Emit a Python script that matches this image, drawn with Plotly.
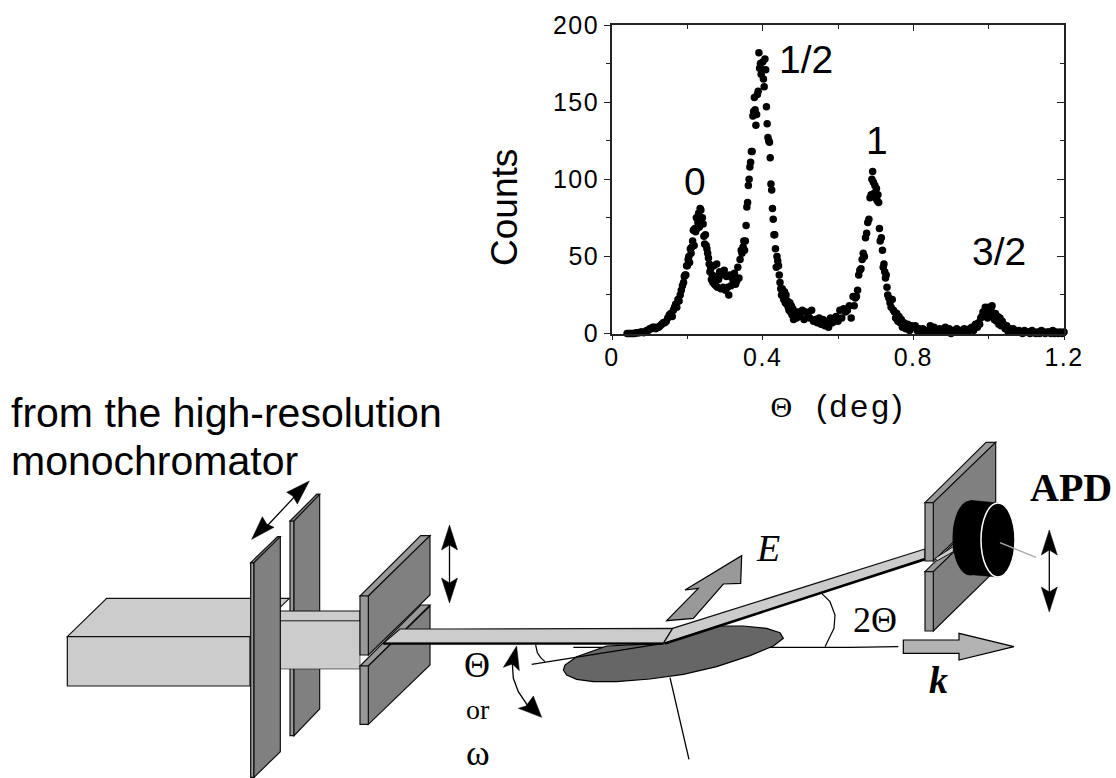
import plotly.graph_objects as go

W, H = 1116, 778

theta = [
 .04,.044,.048,.052,.056,.06,.064,.068,.072,.076,
 .08,.084,.088,.092,.096,.1,.104,.108,.112,.116,
 .12,.124,.128,.132,.136,.14,.144,.148,.152,.156,
 .16,.163,.166,.169,.172,.175,.178,.181,.184,.187,
 .19,.192,.194,.196,.198,.2,.202,.204,.206,.208,
 .21,.212,.214,.216,.218,.22,.222,.224,.226,.228,
 .23,.232,.234,.236,.238,.24,.242,.244,.246,.248,
 .25,.252,.254,.256,.258,.26,.262,.264,.266,.268,
 .27,.272,.274,.276,.278,.28,.283,.286,.289,.292,
 .295,.298,.301,.304,.307,.31,.313,.316,.319,.322,
 .325,.328,.331,.334,.337,.34,.343,.345,.348,.35,
 .352,.354,.356,.358,.36,.362,.364,.366,.368,.37,
 .372,.374,.376,.378,.38,.382,.384,.386,.388,.39,
 .392,.394,.396,.398,.4,.402,.404,.406,.408,.41,
 .412,.414,.416,.418,.42,.422,.424,.426,.428,.43,
 .432,.434,.436,.438,.44,.442,.444,.446,.448,.45,
 .452,.454,.456,.458,.46,.462,.464,.466,.468,.47,
 .472,.474,.476,.478,.48,.482,.484,.486,.488,.49,
 .495,.5,.505,.51,.515,.52,.525,.53,.535,.54,
 .545,.55,.555,.56,.565,.57,.575,.58,.585,.59,
 .595,.6,.605,.61,.615,.62,.625,.63,.635,.64,
 .643,.646,.649,.652,.655,.658,.661,.664,.667,.67,
 .673,.676,.679,.682,.685,.688,.69,.692,.694,.696,
 .698,.7,.702,.704,.706,.708,.71,.712,.715,.718,
 .72,.722,.724,.726,.728,.73,.732,.735,.738,.741,
 .744,.747,.75,.753,.756,.759,.762,.765,.768,.771,
 .775,.78,.785,.79,.795,.8,.805,.81,.815,.82,
 .825,.83,.835,.84,.845,.85,.855,.86,.865,.87,
 .875,.88,.885,.89,.895,.9,.905,.91,.915,.92,
 .925,.93,.935,.94,.945,.95,.955,.96,.965,.97,
 .973,.976,.979,.982,.985,.988,.991,.994,.997,1.0,
 1.003,1.006,1.009,1.012,1.015,1.018,1.021,1.024,1.027,1.03,
 1.033,1.036,1.04,1.044,1.048,1.052,1.056,1.06,1.065,1.07,
 1.075,1.08,1.085,1.09,1.095,1.1,1.105,1.11,1.115,1.12,
 1.125,1.13,1.135,1.14,1.145,1.15,1.155,1.16,1.165,1.17,
 1.175,1.18,1.185,1.19,1.195,1.2,
]
counts = [
 0,0,0,0,0,0,.5,.5,.5,1,
 1,.5,1,2,2,3,3,4,4,3,
 4,4,5,6,7,7,8,10,12,13,
 11,15,17,19,17,22,21,25,28,31,
 33,37,38,38,44,44,48,50,46,55,
 52,56,60,67,57,68,66,75,68,72,
 78,69,81,80,72,75,71,63,58,64,
 57,55,52,49,45,40,42,35,38,33,
 44,32,37,31,45,30,35,40,29,38,
 30,41,28,37,30,25,38,31,36,34,
 39,32,34,43,36,48,54,52,56,60,
 54,60,70,82,85,96,100,108,111,118,
 118,141,144,153,145,135,142,155,157,182,
 172,175,168,171,176,165,160,178,171,147,
 136,127,125,124,114,97,93,81,74,64,
 64,55,43,50,47,44,38,33,29,25,
 29,24,22,27,20,25,19,21,17,15,
 20,14,18,12,16,9,14,12,14,10,
 14,11,15,9,14,13,10,15,8,9,
 7,10,6,9,5,8,4,10,7,8,
 11,8,15,10,16,14,15,18,10,24,
 18,23,24,28,38,41,42,48,52,50,
 62,65,72,74,88,90,100,105,98,91,
 96,88,94,86,90,85,68,60,62,54,
 43,45,40,36,38,30,25,23,20,17,
 22,15,14,10,13,8,11,7,9,4,
 7,3,6,2,5,4,5,2,3,1,
 3,2,1,2,5,1,4,2,1,3,
 1,2,4,1,3,0,2,1,3,1,
 2,1,3,2,1,3,4,2,6,4,
 7,6,10,11,14,13,17,15,10,17,
 13,16,18,12,9,13,8,11,6,10,
 5,8,6,3,5,1,3,1,3,2,
 1,2,1,0,2,1,1,0,2,1,
 0,1,0,2,1,0,1,1,0,2,
 0,1,0,1,0,1,
]
x_ticks = [0, 0.4, 0.8, 1.2]
x_tick_labels = ["0", "0.4", "0.8", "1.2"]
y_ticks = [0, 50, 100, 150, 200]
y_tick_labels = ["0", "50", "100", "150", "200"]
peak_labels = ["0", "1/2", "1", "3/2"]

SANS = "Liberation Sans"
SERIF = "Liberation Serif"
GRAY = "#808080"
LIGHT = "#cccccc"
MID = "#999999"

def spaced(t, s=1.5):
    return f'<span style="letter-spacing:{s}px">{t}</span>'

def px(x): return x / W
def py(y): return 1 - y / H

shapes = []
def poly(pts, fill=None, lw=1.2, color="#111111", close=True):
    d = "M" + " L".join(f"{px(x):.5f},{py(y):.5f}" for x, y in pts) + (" Z" if close else "")
    shapes.append(dict(type="path", path=d, xref="paper", yref="paper", layer="above",
                       fillcolor=fill if fill else "rgba(0,0,0,0)",
                       line=dict(color=color, width=lw)))

def oval(cx, cy, rx, ry, fill, color, lw):
    shapes.append(dict(type="circle", xref="paper", yref="paper", layer="above",
                       x0=px(cx-rx), x1=px(cx+rx), y0=py(cy+ry), y1=py(cy-ry),
                       fillcolor=fill, line=dict(color=color, width=lw)))

def z3(*p): return [(50+x/3, 470+y/3) for x, y in p]
def z4(*p): return [(450+x/3, 540+y/3) for x, y in p]
def z5(*p): return [(850+x/3, 430+y/3) for x, y in p]

def updown(x, y0, y1):
    poly([(x, y0+10), (x, y1-10)], lw=1.3, close=False, color="#000")
    poly([(x, y0), (x+8, y0+25), (x, y0+20), (x-8, y0+25)], "#000", 0.5, "#000")
    poly([(x, y1), (x+8, y1-25), (x, y1-20), (x-8, y1-25)], "#000", 0.5, "#000")

# far slit
poly(z3((720,153),(732,153),(732,797),(720,797)), MID)
poly(z3((732,153),(800,73),(809,73),(809,717),(732,797)), GRAY)
poly(z3((720,153),(800,73),(809,73),(732,153)), GRAY)
# big box
poly(z3((52,500),(170,385),(718,385),(600,500)), LIGHT)
poly(z3((52,500),(600,500),(600,648),(52,648)), LIGHT)
# narrow box
poly(z3((690,423),(930,423),(930,453),(690,453)), LIGHT)
poly(z3((690,453),(930,453),(930,597),(690,597)), LIGHT, 0.6)
# near slit
poly(z3((602,278),(612,278),(612,922),(602,922)), MID)
poly(z3((612,278),(683,200),(691,200),(691,845),(612,922)), GRAY)
poly(z3((602,278),(683,200),(691,200),(612,278)), GRAY)
# first adjustable slit pair
poly(z3((930,378),(1112,197),(1140,197),(955,378)), MID)
poly(z3((955,378),(1140,197),(1140,375),(955,555)), GRAY)
poly(z3((930,378),(955,378),(955,555),(930,555)), MID)
poly(z3((930,588),(1112,405),(1140,405),(955,588)), MID)
poly(z3((955,588),(1140,408),(1140,585),(955,763)), GRAY)
poly(z3((930,588),(955,588),(955,763),(930,763)), MID)
# reference line and sample
poly(z4((370,322),(1200,322))+z5((145,650)), lw=1.3, close=False, color="#000")
poly(z4((340,390),(350,405),(380,418),(430,425),(500,425),(600,417),(700,403),(800,380),(900,347),
        (970,318),(1000,295),(990,278),(950,265),(880,258),(800,258),(740,280),(640,310),(470,318),
        (380,350),(345,375)), "#666666", 1.2, "#000")
poly(z4((245,373),(640,310)), lw=1.3, close=False, color="#000")
poly(z4((660,413),(717,658)), lw=1.3, close=False, color="#000")
# beams
poly(z3((1000,520),(1050,477),(1200,477))+z4((668,265),(640,310),(0,310))+z3((1200,520)), LIGHT, 1.2)
poly(z3((1000,521),(1200,521))+z4((640,311)), lw=2.2, close=False, color="#000")
poly(z4((668,265),(640,310))+z5((225,385),(225,357)), LIGHT, 1.2)
poly(z4((645,311))+z5((225,388)), lw=2.2, close=False, color="#000")
# exit slit pair
poly(z5((225,218),(408,37),(437,37),(250,218)), MID)
poly(z5((250,218),(437,37),(437,215),(250,393)), GRAY)
poly(z5((225,218),(250,218),(250,393),(225,393)), MID)
poly(z5((225,425),(408,245),(437,245),(250,425)), MID)
poly(z5((250,425),(437,245),(437,420),(250,603)), GRAY)
poly(z5((225,425),(250,425),(250,603),(225,603)), MID)
poly(z5((255,385),(310,350),(310,365),(262,392)), LIGHT, 1)
# APD
oval(970, 538, 17, 37, "#000", "#000", 1)
poly(z5((362,211),(445,219),(445,441),(362,434)), "#000", 0.5, "#000")
oval(998, 540, 17, 37, "#000", "#fff", 1.5)
poly(z5((450,338),(558,382)), lw=1.4, close=False, color="#aaaaaa")
# arrows
updown(1049.3, 530, 612)
updown(449.5, 525, 603)
poly(z3((640,180),(745,68)), lw=1.3, close=False, color="#000")
poly(z3((605,208),(637,140),(650,162),(672,172)), "#000", .5, "#000")
poly(z3((778,33),(710,67),(728,78),(742,102)), "#000", .5, "#000")
poly(z5((160,630),(327,630),(327,610),(492,650),(327,690),(327,670),(160,670)), "#b3b3b3", 1.2, "#000")
poly(z4((650,242),(745,145),(705,150),(875,47),(872,130),(820,132),(730,235)), MID, 1.2, "#000")
# angle arcs and curved arrow
poly(z4((257,315),(262,338),(272,353),(285,365)), lw=1.2, close=False, color="#000")
poly(z4((1115,160),(1140,185),(1155,225),(1152,265),(1125,320)), lw=1.2, close=False, color="#000")
poly(z4((187,372),(190,415),(205,455),(235,500)), lw=1.3, close=False, color="#000")
poly(z4((200,318),(160,382),(187,372),(208,392)), "#000", .5, "#000")
poly(z4((275,532),(205,505),(228,498),(250,468)), "#000", .5, "#000")

def note(text, x, y, size, family=SANS, anchor="center", color="#000", angle=0):
    return dict(text=text, x=px(x), y=py(y), xref="paper", yref="paper", showarrow=False,
                xanchor=anchor, yanchor="middle", align="left", textangle=angle,
                font=dict(family=family, size=size, color=color))

annotations = [
    note(peak_labels[0], 695, 181, 39),
    note(peak_labels[1], 806, 60, 39),
    note(peak_labels[2], 877, 140, 39),
    note(peak_labels[3], 999, 251, 39),
    note("Counts", 505, 208, 37, angle=-90),
    note("from the high-resolution", 9, 413, 41, anchor="left"),
    note("monochromator", 9, 461, 41, anchor="left"),
    note("<b>APD</b>", 1071, 487, 40, SERIF),
    note("<i>E</i>", 768, 548, 38, SERIF),
    note("2Θ", 875, 620, 36, SERIF),
    note("<b><i>k</i></b>", 938, 680, 38, SERIF),
    note("Θ", 477, 665, 36, SERIF),
    note("or", 478, 709, 28, SERIF),
    note("ω", 478, 753, 36, SERIF),
]

fig = go.Figure()
fig.add_trace(go.Scatter(x=theta, y=counts, mode="markers", cliponaxis=False, showlegend=False,
                         marker=dict(color="#000", size=7.5, line=dict(width=0))))
# tick-only companion axes (top and right, ticks pointing inward)
fig.add_trace(go.Scatter(x=[0], y=[0], xaxis="x2", yaxis="y2", mode="markers",
                         marker=dict(size=0, opacity=0), showlegend=False, hoverinfo="skip"))

x_dom = [612/W, 1064/W]
y_dom = [1-333.5/H, 1-25/H]
axis_line = dict(showline=True, linecolor="#222", linewidth=1.6, showgrid=False, zeroline=False)
fig.update_layout(
    width=W, height=H, margin=dict(l=0, r=0, t=0, b=0, autoexpand=False), autosize=False,
    paper_bgcolor="#fff", plot_bgcolor="#fff", showlegend=False,
    shapes=shapes, annotations=annotations,
    xaxis=dict(domain=x_dom, range=[0, 1.2], tickvals=x_ticks,
               ticktext=[spaced(t) for t in x_tick_labels], ticklabelstandoff=-4,
               ticks="outside", ticklen=5, tickcolor="#222", tickwidth=1.2,
               minor=dict(tickvals=[.2, .6, 1.0], ticks="outside", ticklen=4, tickcolor="#222"),
               tickfont=dict(family=SANS, size=25, color="#000"),
               title=dict(text='<span style="font-family:Liberation Serif;font-size:30px">Θ</span>'
                               '<span style="letter-spacing:3px">  (deg)</span>',
                          font=dict(family=SANS, size=32, color="#000"), standoff=24),
               **axis_line),
    yaxis=dict(domain=y_dom, range=[0, 200], tickvals=y_ticks,
               ticktext=[spaced(t) for t in y_tick_labels],
               ticks="outside", ticklen=6, tickcolor="#222", tickwidth=1.2,
               minor=dict(tickvals=[25, 75, 125, 175], ticks="outside", ticklen=4, tickcolor="#222"),
               tickfont=dict(family=SANS, size=25, color="#000"),
               **axis_line),
    xaxis2=dict(domain=x_dom, range=[0, 1.2], overlaying="x", anchor="y2", side="top",
                tickvals=x_ticks, ticks="inside", ticklen=6, tickcolor="#222", showticklabels=False,
                minor=dict(tickvals=[.2, .6, 1.0], ticks="inside", ticklen=4, tickcolor="#222"),
                **axis_line),
    yaxis2=dict(domain=y_dom, range=[0, 200], overlaying="y", anchor="x2", side="right",
                tickvals=y_ticks, ticks="inside", ticklen=7, tickcolor="#222", showticklabels=False,
                minor=dict(tickvals=[25, 75, 125, 175], ticks="inside", ticklen=4, tickcolor="#222"),
                **axis_line),
)
fig.write_html("out.html", config=dict(displayModeBar=False),
               post_script="document.body.style.margin='0';document.body.style.overflow='hidden';")
